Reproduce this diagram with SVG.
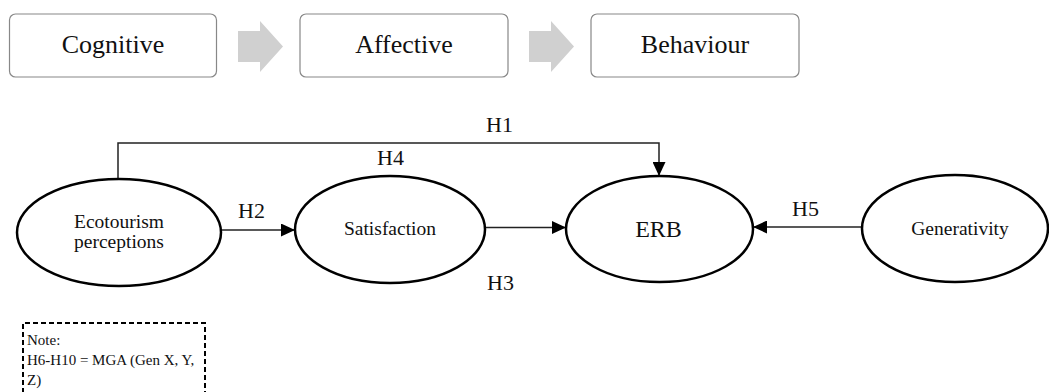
<svg xmlns="http://www.w3.org/2000/svg" width="1049" height="392" viewBox="0 0 1049 392" font-family="'Liberation Serif', 'DejaVu Serif', serif">
<style>
text{font-family:"Liberation Serif","DejaVu Serif",serif;fill:#111}
.box{fill:#fff;stroke:#888;stroke-width:1.2}
.blk{fill:#d0d0d0}
.ell{fill:#fff;stroke:#000;stroke-width:2.5}
.con{fill:none;stroke:#222;stroke-width:1.5}
.big{font-size:26px}
.lab{font-size:22px}
.nt{font-size:19.5px}
.note{font-size:15px}
</style>
<defs>
<marker id="ah" markerUnits="userSpaceOnUse" markerWidth="14" markerHeight="13" refX="14" refY="6.5" orient="auto">
<path d="M0,0 L14,6.5 L0,13 z" fill="#000"/>
</marker>
</defs>
<rect width="1049" height="392" fill="#fff"/>
<g id="stages">
<g id="cognitive"><rect class="box" x="9.5" y="14" width="207" height="63" rx="6"/><text class="big" x="113" y="53" text-anchor="middle">Cognitive</text></g>
<path class="blk" d="M238,31 H260 V21 L283,46.5 L260,72 V62 H238 z"/>
<g id="affective"><rect class="box" x="300" y="14" width="208" height="63" rx="6"/><text class="big" x="404" y="53" text-anchor="middle">Affective</text></g>
<path class="blk" d="M529,31 H551 V21 L574,46.5 L551,72 V62 H529 z"/>
<g id="behaviour"><rect class="box" x="591" y="14" width="208" height="63" rx="6"/><text class="big" x="695" y="53" text-anchor="middle">Behaviour</text></g>
</g>
<g id="connectors">
<path class="con" d="M118,179 V143 H659 V176" marker-end="url(#ah)"/>
<path class="con" d="M221,230 H295" marker-end="url(#ah)"/>
<path class="con" d="M485,227.5 H566" marker-end="url(#ah)"/>
<path class="con" d="M861,227 H753" marker-end="url(#ah)"/>
<text class="lab" x="486" y="132">H1</text>
<text class="lab" x="377" y="165">H4</text>
<text class="lab" x="238" y="218">H2</text>
<text class="lab" x="487" y="290">H3</text>
<text class="lab" x="792" y="216">H5</text>
</g>
<g id="ecotourism"><ellipse class="ell" cx="119" cy="232.5" rx="102" ry="53.5"/><text class="nt" x="119" y="228" text-anchor="middle">Ecotourism</text><text class="nt" x="119" y="248" text-anchor="middle">perceptions</text></g>
<g id="satisfaction"><ellipse class="ell" cx="390" cy="229.5" rx="95" ry="53.5"/><text class="nt" x="390" y="235" text-anchor="middle">Satisfaction</text></g>
<g id="erb"><ellipse class="ell" cx="659.5" cy="229" rx="93.5" ry="53"/><text x="658.5" y="237" text-anchor="middle" font-size="24">ERB</text></g>
<g id="generativity"><ellipse class="ell" cx="955" cy="228.5" rx="93" ry="53.5"/><text class="nt" x="960" y="235" text-anchor="middle">Generativity</text></g>
<g id="note">
<path d="M23,393 V323 H205 V393" fill="none" stroke="#000" stroke-width="2" stroke-dasharray="5,3"/>
<text class="note" x="27" y="345">Note:</text>
<text class="note" x="27" y="365">H6-H10 = MGA (Gen X, Y,</text>
<text class="note" x="27" y="385">Z)</text>
</g>
</svg>
